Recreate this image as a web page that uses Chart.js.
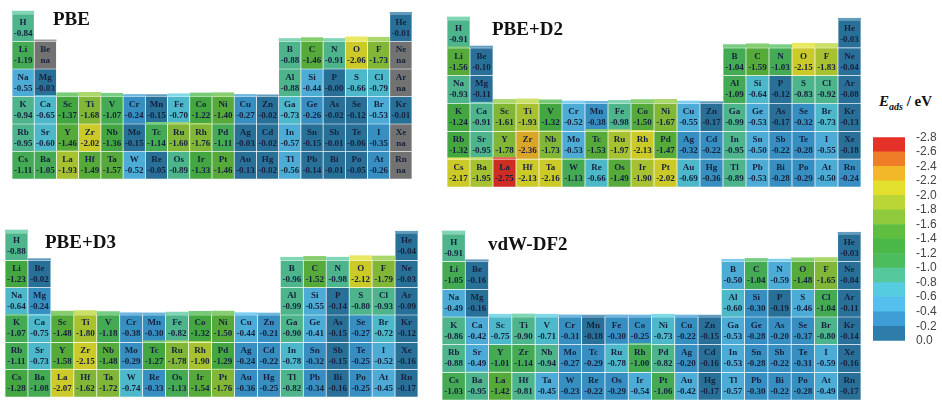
<!DOCTYPE html>
<html>
<head>
<meta charset="utf-8">
<script src="https://cdn.jsdelivr.net/npm/chart.js@4.4.0/dist/chart.umd.min.js"></script>
<style>
  body { margin: 0; width: 942px; height: 404px; background: #fff; position: relative; overflow: hidden; font-family: "Liberation Serif", serif; }
  .box { position: absolute; }
  .title { position: absolute; font-weight: bold; font-size: 19px; line-height: 20px; color: #111; white-space: nowrap; }
  .unit { position: absolute; font-weight: bold; font-size: 15px; color: #111; white-space: nowrap; }
</style>
</head>
<body>
<div class="box" style="left:12px;top:4px;width:400px;height:178px"><canvas id="pbe"></canvas></div>
<div class="box" style="left:447px;top:10px;width:414px;height:180px"><canvas id="d2"></canvas></div>
<div class="box" style="left:5px;top:223px;width:413px;height:177px"><canvas id="d3"></canvas></div>
<div class="box" style="left:442px;top:224px;width:419px;height:179px"><canvas id="df2"></canvas></div>
<div class="box" style="left:873px;top:127px;width:66px;height:224px"><canvas id="cbar"></canvas></div>

<div class="title" style="left:53px;top:9px">PBE</div>
<div class="title" style="left:492px;top:19px">PBE+D2</div>
<div class="title" style="left:45px;top:232px">PBE+D3</div>
<div class="title" style="left:488px;top:234px">vdW-DF2</div>
<div class="unit" style="left:879px;top:93px"><i>E</i><sub style="font-size:10px"><i>ads</i></sub> / eV</div>

<script>
// elements, ordered by period then group
var symbols = ['H','He',
  'Li','Be','B','C','N','O','F','Ne',
  'Na','Mg','Al','Si','P','S','Cl','Ar',
  'K','Ca','Sc','Ti','V','Cr','Mn','Fe','Co','Ni','Cu','Zn','Ga','Ge','As','Se','Br','Kr',
  'Rb','Sr','Y','Zr','Nb','Mo','Tc','Ru','Rh','Pd','Ag','Cd','In','Sn','Sb','Te','I','Xe',
  'Cs','Ba','La','Hf','Ta','W','Re','Os','Ir','Pt','Au','Hg','Tl','Pb','Bi','Po','At','Rn']
var groups = [1,18,
  1,2,13,14,15,16,17,18,
  1,2,13,14,15,16,17,18,
  1,2,3,4,5,6,7,8,9,10,11,12,13,14,15,16,17,18,
  1,2,3,4,5,6,7,8,9,10,11,12,13,14,15,16,17,18,
  1,2,3,4,5,6,7,8,9,10,11,12,13,14,15,16,17,18]
var periods = [1,1,
  2,2,2,2,2,2,2,2,
  3,3,3,3,3,3,3,3,
  4,4,4,4,4,4,4,4,4,4,4,4,4,4,4,4,4,4,
  5,5,5,5,5,5,5,5,5,5,5,5,5,5,5,5,5,5,
  6,6,6,6,6,6,6,6,6,6,6,6,6,6,6,6,6,6]

// adsorption energies (eV), null = na
var pbe = [-0.84,-0.01,
  -1.19,null,-0.88,-1.46,-0.91,-2.06,-1.73,null,
  -0.55,-0.03,-0.88,-0.44,-0.00,-0.66,-0.79,null,
  -0.94,-0.65,-1.37,-1.68,-1.07,-0.24,-0.15,-0.70,-1.22,-1.40,-0.27,-0.02,-0.73,-0.26,-0.02,-0.12,-0.53,-0.01,
  -0.95,-0.60,-1.46,-2.02,-1.36,-0.15,-1.14,-1.60,-1.76,-1.11,-0.03,-0.02,-0.57,-0.15,-0.01,-0.06,-0.35,null,
  -1.11,-1.05,-1.93,-1.49,-1.57,-0.52,-0.05,-0.89,-1.33,-1.46,-0.13,-0.02,-0.56,-0.14,-0.01,-0.05,-0.26,null]
var pbeD2 = [-0.91,-0.03,
  -1.56,-0.10,-1.04,-1.59,-1.03,-2.15,-1.83,-0.04,
  -0.93,-0.11,-1.09,-0.64,-0.12,-0.83,-0.92,-0.08,
  -1.24,-0.91,-1.61,-1.93,-1.32,-0.52,-0.38,-0.98,-1.50,-1.67,-0.55,-0.17,-0.99,-0.53,-0.17,-0.32,-0.73,-0.13,
  -1.32,-0.95,-1.78,-2.36,-1.73,-0.53,-1.53,-1.97,-2.13,-1.47,-0.32,-0.22,-0.95,-0.50,-0.22,-0.28,-0.55,-0.18,
  -2.17,-1.95,-2.75,-2.13,-2.16,-1.13,-0.66,-1.49,-1.90,-2.02,-0.69,-0.36,-0.89,-0.53,-0.28,-0.29,-0.50,-0.24]
var pbeD3 = [-0.88,-0.04,
  -1.23,-0.02,-0.96,-1.52,-0.98,-2.12,-1.79,-0.03,
  -0.64,-0.24,-0.99,-0.55,-0.14,-0.80,-0.93,-0.09,
  -1.07,-0.75,-1.48,-1.80,-1.18,-0.38,-0.30,-0.82,-1.32,-1.50,-0.44,-0.21,-0.90,-0.41,-0.15,-0.27,-0.72,-0.12,
  -1.11,-0.73,-1.58,-2.15,-1.48,-0.29,-1.27,-1.78,-1.90,-1.29,-0.24,-0.22,-0.78,-0.32,-0.15,-0.25,-0.52,-0.16,
  -1.28,-1.08,-2.07,-1.62,-1.72,-0.74,-0.33,-1.13,-1.54,-1.76,-0.36,-0.25,-0.82,-0.34,-0.16,-0.25,-0.45,-0.17]
var vdwDF2 = [-0.91,-0.03,
  -1.05,-0.16,-0.50,-1.04,-0.59,-1.48,-1.65,-0.04,
  -0.49,-0.16,-0.60,-0.30,-0.19,-0.46,-1.04,-0.11,
  -0.86,-0.42,-0.75,-0.90,-0.71,-0.31,-0.18,-0.30,-0.25,-0.73,-0.22,-0.15,-0.53,-0.28,-0.20,-0.37,-0.80,-0.14,
  -0.88,-0.49,-1.01,-1.14,-0.94,-0.27,-0.29,-0.78,-1.00,-0.82,-0.20,-0.16,-0.53,-0.28,-0.22,-0.31,-0.59,-0.16,
  -1.03,-0.95,-1.42,-0.81,-0.45,-0.23,-0.22,-0.29,-0.54,-1.06,-0.42,-0.17,-0.57,-0.30,-0.22,-0.28,-0.49,-0.17]

// colour bar: bin edges and the colour of each 0.2 eV bin (0 -> -2.8)
var cbEdges = [0.0,-0.2,-0.4,-0.6,-0.8,-1.0,-1.2,-1.4,-1.6,-1.8,-2.0,-2.2,-2.4,-2.6,-2.8]
var cbColors = ['#2d7caa','#3d9fd6','#55bfee','#55ccdf','#55c89c','#4cbd5c','#4ab848',
  '#5fbd40','#8fca3c','#b9d636','#e2e02c','#f2b82a','#ef7d28','#e53228']
var naColor = '#7f7f7f'
var cellFont = 'bold 9px "Liberation Serif", "Times New Roman", serif'

function rgb(hex) {
  return [parseInt(hex.slice(1, 3), 16), parseInt(hex.slice(3, 5), 16), parseInt(hex.slice(5, 7), 16)]
}
function darken(hex, f) {
  var c = rgb(hex)
  return 'rgb(' + c.map(function (v) { return Math.round(v * f) }).join(',') + ')'
}
function lighten(hex, f) {
  var c = rgb(hex)
  return 'rgb(' + c.map(function (v) { return Math.round(v + (255 - v) * f) }).join(',') + ')'
}
function binColor(v) {
  if (v === null) return naColor
  var i = Math.min(13, Math.floor(Math.abs(v) * 5 + 1e-6))
  return cbColors[i]
}

function buildDatasets(values) {
  var sets = []
  for (var p = 1; p <= 6; p++) {
    var data = [], bg = [], syms = [], vals = []
    for (var g = 0; g < 18; g++) { data.push(null); bg.push('rgba(0,0,0,0)'); syms.push(null); vals.push(undefined) }
    symbols.forEach(function (s, i) {
      if (periods[i] !== p) return
      var k = groups[i] - 1
      data[k] = [p - 1, p]
      bg[k] = darken(binColor(values[i]), 0.9)
      syms[k] = s
      vals[k] = values[i]
    })
    sets.push({
      data: data, backgroundColor: bg, syms: syms, vals: vals,
      borderColor: 'rgba(255,255,255,0.3)', borderWidth: 0.7, borderSkipped: false,
      grouped: false, barPercentage: 1, categoryPercentage: 1
    })
  }
  return sets
}

// draws the visible top faces and the cell texts
var cellPlugin = {
  id: 'cellText',
  afterDatasetsDraw: function (chart) {
    var ctx = chart.ctx
    var sets = chart.data.datasets
    ctx.save()
    sets.forEach(function (ds, d) {
      var meta = chart.getDatasetMeta(d)
      meta.data.forEach(function (bar, g) {
        if (ds.syms[g] == null) return
        var v = ds.vals[g]
        var above = d > 0 ? sets[d - 1].vals[g] : undefined
        var a = Math.abs(v === null ? 0 : v)
        var h
        if (above === undefined) h = 2 + a * 1.5
        else h = (a - Math.abs(above === null ? 0 : above)) * 2
        h = Math.min(5, h)
        if (h > 0.8) {
          var top = Math.min(bar.y, bar.base)
          ctx.fillStyle = lighten(binColor(v), 0.25)
          ctx.fillRect(bar.x - bar.width / 2, top - h, bar.width, h)
        }
      })
    })
    ctx.fillStyle = '#15213d'
    ctx.textAlign = 'center'
    ctx.textBaseline = 'middle'
    ctx.font = cellFont
    sets.forEach(function (ds, d) {
      var meta = chart.getDatasetMeta(d)
      meta.data.forEach(function (bar, g) {
        if (ds.syms[g] == null) return
        var cy = (bar.y + bar.base) / 2
        var v = ds.vals[g]
        ctx.fillText(ds.syms[g], bar.x, cy - 5.5)
        ctx.fillText(v === null ? 'na' : '-' + Math.abs(v).toFixed(2), bar.x, cy + 5.5)
      })
    })
    ctx.restore()
  }
}

var columns = []
for (var c = 1; c <= 18; c++) columns.push(String(c))

function makeTable(id, values, padTop) {
  new Chart(document.getElementById(id), {
    type: 'bar',
    data: { labels: columns, datasets: buildDatasets(values) },
    options: {
      responsive: true, maintainAspectRatio: false, animation: false, events: [],
      layout: { padding: { top: padTop, bottom: 3, left: 0, right: 0 } },
      plugins: { legend: { display: false }, tooltip: { enabled: false } },
      scales: {
        x: { display: false },
        y: { display: false, min: 0, max: 6, reverse: true }
      }
    },
    plugins: [cellPlugin]
  })
}

function drawAll() {
  makeTable('pbe', pbe, 10)
  makeTable('d2', pbeD2, 10)
  makeTable('d3', pbeD3, 10)
  makeTable('df2', vdwDF2, 10)

  // colour bar
  var cbSets = cbColors.map(function (col, i) {
    return {
      data: [[cbEdges[i + 1], cbEdges[i]]], backgroundColor: col, borderWidth: 0,
      grouped: false, barPercentage: 1, categoryPercentage: 1
    }
  })
  new Chart(document.getElementById('cbar'), {
    type: 'bar',
    data: { labels: [''], datasets: cbSets },
    options: {
      responsive: true, maintainAspectRatio: false, animation: false, events: [],
      layout: { padding: { top: 6, bottom: 6, left: 0, right: 0 } },
      plugins: { legend: { display: false }, tooltip: { enabled: false } },
      scales: {
        x: { display: false },
        y: {
          position: 'right', min: -2.8, max: 0, reverse: true,
          grid: { display: false }, border: { display: false },
          ticks: {
            stepSize: 0.2, padding: 3, color: '#444', autoSkip: false,
            font: { family: '"Liberation Sans", Arial', size: 12 },
            callback: function (v) { return (Math.round(v * 10) / 10).toFixed(1) }
          },
          afterFit: function (s) { s.width = 34 }
        }
      }
    }
  })
}

document.fonts.load(cellFont).then(drawAll, drawAll)
</script>
</body>
</html>
